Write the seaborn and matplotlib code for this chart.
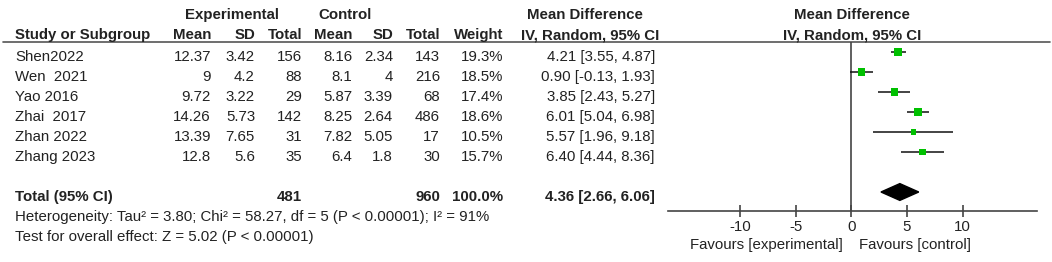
import numpy as np
import pandas as pd
import seaborn as sns
import matplotlib.pyplot as plt
from matplotlib.patches import Polygon

studies = ["Shen2022", "Wen  2021", "Yao 2016", "Zhai  2017", "Zhan 2022", "Zhang 2023"]
exp_mean = ["12.37", "9", "9.72", "14.26", "13.39", "12.8"]
exp_sd = ["3.42", "4.2", "3.22", "5.73", "7.65", "5.6"]
exp_n = [156, 88, 29, 142, 31, 35]
ctl_mean = ["8.16", "8.1", "5.87", "8.25", "7.82", "6.4"]
ctl_sd = ["2.34", "4", "3.39", "2.64", "5.05", "1.8"]
ctl_n = [143, 216, 68, 486, 17, 30]
weight = [19.3, 18.5, 17.4, 18.6, 10.5, 15.7]
md = [4.21, 0.90, 3.85, 6.01, 5.57, 6.40]
ci_lo = [3.55, -0.13, 2.43, 5.04, 1.96, 4.44]
ci_hi = [4.87, 1.93, 5.27, 6.98, 9.18, 8.36]
total = {"exp_n": 481, "ctl_n": 960, "weight": "100.0%", "md": 4.36, "lo": 2.66, "hi": 6.06}
heterogeneity = "Heterogeneity: Tau\u00b2 = 3.80; Chi\u00b2 = 58.27, df = 5 (P < 0.00001); I\u00b2 = 91%"
overall = "Test for overall effect: Z = 5.02 (P < 0.00001)"
xticks = [-10, -5, 0, 5, 10]

sns.set_theme(style="white")
plt.rcParams['font.family'] = ['Liberation Sans', 'DejaVu Sans']
fs = 10.8
tc = "#222222"

W, H = 1052, 262
fig = plt.figure(figsize=(W / 100, H / 100), dpi=100)

# text layer in pixel coordinates
tx = fig.add_axes([0, 0, 1, 1])
tx.set_xlim(0, W)
tx.set_ylim(H, 0)
tx.axis("off")

# headers
tx.text(232, 15, "Experimental", ha="center", va="center", fontsize=fs, fontweight="bold", color=tc)
tx.text(345, 15, "Control", ha="center", va="center", fontsize=fs, fontweight="bold", color=tc)
tx.text(585, 15, "Mean Difference", ha="center", va="center", fontsize=fs, fontweight="bold", color=tc)
tx.text(852, 15, "Mean Difference", ha="center", va="center", fontsize=fs, fontweight="bold", color=tc)
cols = [(15, "left", "Study or Subgroup"), (211, "right", "Mean"), (255, "right", "SD"),
        (302, "right", "Total"), (352, "right", "Mean"), (393, "right", "SD"),
        (440, "right", "Total"), (503, "right", "Weight"), (659, "right", "IV, Random, 95% CI")]
for x, ha, lab in cols:
    tx.text(x, 35, lab, ha=ha, va="center", fontsize=fs, fontweight="bold", color=tc)
tx.text(852, 35, "IV, Random, 95% CI", ha="center", va="center", fontsize=fs, fontweight="bold", color=tc)
tx.plot([3, 1050], [42, 42], color="#555555", lw=1.2)

row0, step = 57, 20
for i, s in enumerate(studies):
    y = row0 + step * i
    vals = [s, exp_mean[i], exp_sd[i], exp_n[i], ctl_mean[i], ctl_sd[i], ctl_n[i],
            f"{weight[i]:.1f}%", f"{md[i]:.2f} [{ci_lo[i]:.2f}, {ci_hi[i]:.2f}]"]
    for (x, ha, _), v in zip(cols, vals):
        tx.text(x - (4 if x == 659 else 0), y, str(v), ha=ha, va="center", fontsize=fs, color=tc)

yt = row0 + step * 7
tx.text(15, yt, "Total (95% CI)", ha="left", va="center", fontsize=fs, fontweight="bold", color=tc)
tx.text(302, yt, str(total["exp_n"]), ha="right", va="center", fontsize=fs, fontweight="bold", color=tc)
tx.text(440, yt, str(total["ctl_n"]), ha="right", va="center", fontsize=fs, fontweight="bold", color=tc)
tx.text(503, yt, total["weight"], ha="right", va="center", fontsize=fs, fontweight="bold", color=tc)
tx.text(655, yt, f"{total['md']:.2f} [{total['lo']:.2f}, {total['hi']:.2f}]", ha="right", va="center",
        fontsize=fs, fontweight="bold", color=tc)
tx.text(15, yt + 20, heterogeneity, ha="left", va="center", fontsize=fs, color=tc)
tx.text(15, yt + 40, overall, ha="left", va="center", fontsize=fs, color=tc)
tx.text(843, 245, "Favours [experimental]", ha="right", va="center", fontsize=fs, color=tc)
tx.text(859, 245, "Favours [control]", ha="left", va="center", fontsize=fs, color=tc)

# forest panel
x0, x1, ytop, ybot = 668, 1037, 42, 211
ax = fig.add_axes([x0 / W, (H - ybot) / H, (x1 - x0) / W, (ybot - ytop) / H])
ax.set_facecolor("none")
df = pd.DataFrame({"study": studies, "md": md, "lo": ci_lo, "hi": ci_hi,
                   "weight": weight, "row": np.arange(len(studies))})
ax.hlines(df["row"], df["lo"], df["hi"], color="#111111", lw=1.1, zorder=2)
sns.scatterplot(data=df, x="md", y="row", size="weight", sizes=(14, 30), size_norm=(10.5, 19.3),
                marker="s", color="#00c000", edgecolor="none", legend=False, ax=ax, zorder=3)
dr = 7
ax.add_patch(Polygon([(total["lo"], dr), (total["md"], dr - 0.42), (total["hi"], dr), (total["md"], dr + 0.42)],
                     closed=True, color="black", zorder=3))
ax.axvline(0, color="#444444", lw=1.2, zorder=1)
ax.set_xlim(-16.5, 16.7)
ax.set_ylim(7.95, -0.5)
ax.set_yticks([])
ax.set_xticks(xticks)
ax.set_xticklabels([str(t) for t in xticks], fontsize=fs, color=tc)
ax.tick_params(axis="x", direction="inout", length=9, width=1.2, color="#444444", pad=2, bottom=True)
for sp in ["top", "left", "right"]:
    ax.spines[sp].set_visible(False)
ax.spines["bottom"].set_color("#444444")
ax.spines["bottom"].set_linewidth(1.2)
ax.set_xlabel("")
ax.set_ylabel("")

fig.savefig("out.png", dpi=100)
